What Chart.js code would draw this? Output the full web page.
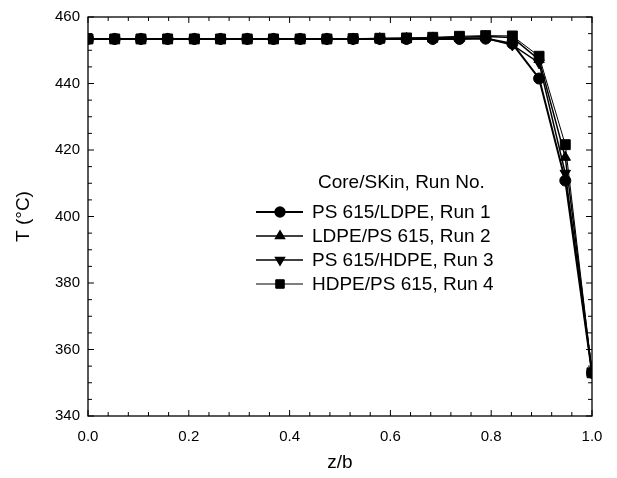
<!DOCTYPE html>
<html><head><meta charset="utf-8">
<script src="https://cdn.jsdelivr.net/npm/chart.js@4.4.0/dist/chart.umd.min.js"></script>
<style>html,body{margin:0;padding:0;background:#fff;}#wrap{width:617px;height:478px;}</style>
</head><body><div id="wrap"><canvas id="c" width="617" height="478"></canvas></div>
<script>
const zb = [0.000, 0.053, 0.105, 0.158, 0.211, 0.263, 0.316, 0.368, 0.421, 0.474, 0.526, 0.579, 0.632, 0.684, 0.737, 0.789, 0.842, 0.895, 0.947, 1.000];
const run1 = [453.4, 453.4, 453.4, 453.4, 453.4, 453.4, 453.4, 453.4, 453.4, 453.4, 453.4, 453.4, 453.4, 453.4, 453.4, 453.5, 452.0, 441.5, 410.8, 353];
const run2 = [453.4, 453.4, 453.4, 453.4, 453.4, 453.4, 453.4, 453.4, 453.4, 453.4, 453.4, 453.5, 453.6, 453.7, 453.9, 454.1, 453.8, 447.2, 417.8, 353];
const run3 = [453.4, 453.4, 453.4, 453.4, 453.4, 453.4, 453.4, 453.4, 453.4, 453.4, 453.4, 453.4, 453.4, 453.5, 453.6, 453.6, 451.6, 446.2, 413.0, 353];
const run4 = [453.4, 453.4, 453.4, 453.4, 453.4, 453.4, 453.4, 453.4, 453.4, 453.4, 453.5, 453.6, 453.7, 453.9, 454.2, 454.4, 454.3, 448.2, 421.6, 353];
const seriesNames = ['PS 615/LDPE, Run 1', 'LDPE/PS 615, Run 2', 'PS 615/HDPE, Run 3', 'HDPE/PS 615, Run 4'];
const legendTitle = 'Core/SKin, Run No.';
const xTickLabels = ['0.0', '0.2', '0.4', '0.6', '0.8', '1.0'];
const yTickLabels = ['340', '360', '380', '400', '420', '440', '460'];

const FONT = "'Liberation Sans', Arial, sans-serif";
const pts = arr => arr.map((v, i) => ({x: zb[i], y: v}));
const styles = [
  {pointStyle: 'circle', pointRadius: 5.5, pointRotation: 0, borderWidth: 2},
  {pointStyle: 'triangle', pointRadius: 6, pointRotation: 0, borderWidth: 1.5},
  {pointStyle: 'triangle', pointRadius: 6, pointRotation: 180, borderWidth: 1.5},
  {pointStyle: 'rect', pointRadius: 7, pointRotation: 0, borderWidth: 1}
];
const datasets = [run1, run2, run3, run4].map((d, k) => Object.assign({
  label: seriesNames[k], data: pts(d), borderColor: '#000', backgroundColor: '#000',
  pointBackgroundColor: '#000', pointBorderColor: '#000', pointBorderWidth: 1, tension: 0
}, styles[k]));

const framePlugin = {
  id: 'frame',
  afterDraw(chart) {
    const ctx = chart.ctx, a = chart.chartArea, xs = chart.scales.x, ys = chart.scales.y;
    ctx.save();
    ctx.strokeStyle = '#000'; ctx.lineWidth = 1.3;
    ctx.strokeRect(a.left, a.top, a.right - a.left, a.bottom - a.top);
    ctx.lineWidth = 1;
    ctx.beginPath();
    for (let i = 0; i <= 25; i++) {
      const v = i * 0.04, px = xs.getPixelForValue(v), L = (i % 5 === 0) ? 6 : 4;
      ctx.moveTo(px, a.bottom); ctx.lineTo(px, a.bottom - L);
      ctx.moveTo(px, a.top); ctx.lineTo(px, a.top + L);
    }
    for (let v = 340; v <= 460; v += 5) {
      const py = ys.getPixelForValue(v), L = (v % 20 === 0) ? 6 : 4;
      ctx.moveTo(a.left, py); ctx.lineTo(a.left + L, py);
      ctx.moveTo(a.right, py); ctx.lineTo(a.right - L, py);
    }
    ctx.stroke();
    // legend
    ctx.fillStyle = '#000';
    ctx.font = '19px ' + FONT;
    ctx.textBaseline = 'middle'; ctx.textAlign = 'left';
    ctx.fillText(legendTitle, 318, 183);
    const rows = [212, 236, 260, 284];
    chart.data.datasets.forEach((ds, k) => {
      const y = rows[k];
      ctx.lineWidth = ds.borderWidth; ctx.strokeStyle = '#000';
      ctx.beginPath(); ctx.moveTo(256, y); ctx.lineTo(303, y); ctx.stroke();
      Chart.helpers.drawPoint(ctx, {pointStyle: ds.pointStyle, radius: ds.pointRadius * 0.85, rotation: ds.pointRotation, borderWidth: 1}, 280, y);
      ctx.fill();
      ctx.fillText(ds.label, 312, y + 1);
    });
    ctx.restore();
  }
};

new Chart(document.getElementById('c'), {
  type: 'line',
  data: {datasets},
  options: {
    responsive: false, animation: false,
    layout: {padding: {top: 16, right: 25, left: 0, bottom: 0}},
    plugins: {legend: {display: false}, tooltip: {enabled: false}},
    scales: {
      x: {
        type: 'linear', min: 0, max: 1,
        afterFit: s => { s.height = 62; },
        grid: {display: false, drawTicks: false},
        border: {display: false},
        ticks: {stepSize: 0.2, padding: 12, color: '#000', font: {family: FONT, size: 15},
          callback: (v) => xTickLabels[Math.round(v / 0.2)]},
        title: {display: true, text: 'z/b', color: '#000', font: {family: FONT, size: 19}, padding: {top: 4, bottom: 4}}
      },
      y: {
        type: 'linear', min: 340, max: 460,
        afterFit: s => { s.width = 88; },
        grid: {display: false, drawTicks: false},
        border: {display: false},
        ticks: {stepSize: 20, padding: 8, color: '#000', font: {family: FONT, size: 15},
          callback: (v) => yTickLabels[Math.round((v - 340) / 20)]},
        title: {display: true, text: 'T (°C)', color: '#000', font: {family: FONT, size: 19}, padding: {top: 12, bottom: 0}}
      }
    }
  },
  plugins: [framePlugin]
});
</script></body></html>
